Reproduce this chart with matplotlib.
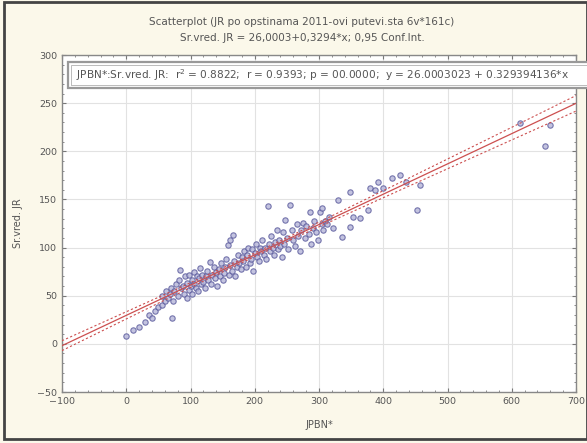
import numpy as np
import matplotlib.pyplot as plt
from matplotlib.patches import Rectangle
from matplotlib.ticker import MultipleLocator

# ============================================================
# Data (read from the reference scatterplot)
# ============================================================

jpbn = [0, 10, 20, 29, 35, 40, 45, 50, 55, 56, 60, 62, 71,
        65, 68, 70, 72, 75, 78, 80, 82, 84, 85, 88, 90, 92, 94, 95, 97, 98,
        100, 102, 103, 105, 106, 108, 110, 112, 113, 115, 116, 118, 120,
        122, 124, 126, 128, 130, 132, 134, 136, 138, 140, 142, 144, 146, 148,
        150, 152, 154, 156, 158, 160, 161, 162, 164, 166, 168, 170, 172, 174,
        176, 178, 180,
        182, 184, 186, 188, 190, 192, 194, 196, 198, 200, 202, 204, 206, 208,
        210, 212, 214, 216, 218, 220, 222, 224, 226, 228, 230, 232, 234, 236,
        238, 240, 242, 244, 246, 247, 250,
        252, 255, 258, 260, 262, 265, 268, 270, 272, 275, 278, 280, 284, 286,
        288, 290, 292, 295, 298, 301, 304, 305, 306, 310, 312, 316,
        322, 330, 336, 348, 348, 353, 364, 376, 379, 387, 392, 400, 413, 426,
        435, 453, 457,
        613, 652, 660]

sr_vred_jr = [8, 14, 18, 23, 30, 27, 34, 38, 50, 40, 45, 55, 27,
              48, 52, 58, 45, 55, 62, 50, 66, 77, 58, 60, 52, 70, 63, 48, 72, 56,
              60, 66, 52, 75, 62, 58, 70, 55, 68, 79, 62, 72, 64,
              58, 70, 76, 66, 85, 62, 72, 80, 68, 75, 60, 78, 70, 84,
              66, 74, 80, 88, 103, 72, 108, 82, 76, 113, 86, 70, 80, 92,
              84, 78, 90,
              86, 96, 80, 92, 100, 84, 88, 98, 76, 94, 104, 90, 86, 100,
              96, 108, 92, 100, 88, 143, 104, 96, 112, 100, 92, 106, 118, 98,
              108, 102, 90, 116, 104, 129, 110,
              98, 144, 118, 108, 102, 124, 112, 96, 118, 126, 110, 122, 114, 137,
              104, 120, 128, 116, 108, 137, 124, 141, 118, 128, 125, 132,
              120, 149, 111, 121, 158, 132, 131, 139, 162, 160, 168, 162, 172, 175,
              168, 139, 165,
              229, 206, 227]

title_lines = ["Scatterplot (JR po opstinama 2011-ovi putevi.sta 6v*161c)",
               "Sr.vred. JR = 26,0003+0,3294*x; 0,95 Conf.Int."]
legend_text = ("JPBN*:Sr.vred. JR:  r$^2$ = 0.8822;  r = 0.9393; p = 00.0000;  "
               "y = 26.0003023 + 0.329394136*x")

x = np.array(jpbn, dtype=float)
y = np.array(sr_vred_jr, dtype=float)

# ============================================================
# Fit + 95% confidence band
# ============================================================

slope, intercept = np.polyfit(x, y, 1)
n = len(x)
resid = y - (intercept + slope * x)
s = np.sqrt(np.sum(resid ** 2) / (n - 2))
xx = np.linspace(-100, 700, 200)
yy = intercept + slope * xx
se = s * np.sqrt(1.0 / n + (xx - x.mean()) ** 2 / np.sum((x - x.mean()) ** 2))
band = 1.975 * se

# ============================================================
# Plot
# ============================================================

bg = '#fbf8ea'
fig = plt.figure(figsize=(5.87, 4.43), dpi=100, facecolor=bg)
ax = fig.add_axes([62 / 587, 1 - 392 / 443, (576 - 62) / 587, (392 - 55) / 443])
ax.set_facecolor('white')

ax.grid(True, color='#e2e2e2', linewidth=0.8)
ax.set_axisbelow(True)

ax.scatter(x, y, s=15, facecolor='#b4b4d8', edgecolor='#5a5a9c',
           linewidth=0.8, alpha=0.8, zorder=3)
ax.plot(xx, yy, color='#cc5050', linewidth=0.9, zorder=4)
ax.plot(xx, yy + band, color='#cc5050', linewidth=0.8, linestyle=(0, (2, 2)), zorder=4)
ax.plot(xx, yy - band, color='#cc5050', linewidth=0.8, linestyle=(0, (2, 2)), zorder=4)

ax.set_xlim(-100, 700)
ax.set_ylim(-50, 300)
ax.xaxis.set_major_locator(MultipleLocator(100))
ax.xaxis.set_minor_locator(MultipleLocator(20))
ax.yaxis.set_major_locator(MultipleLocator(50))
ax.yaxis.set_minor_locator(MultipleLocator(10))
ax.tick_params(which='both', direction='in', top=True, right=True,
               colors='#777777', labelcolor='#555555', labelsize=6.8)
ax.tick_params(which='major', length=3)
ax.tick_params(which='minor', length=1.5)
for sp in ax.spines.values():
    sp.set_color('#888888')
    sp.set_linewidth(1.0)

ax.set_xlabel('JPBN*', fontsize=7, color='#555555', labelpad=10)
ax.set_ylabel('Sr.vred. JR', fontsize=7, color='#555555', labelpad=10)

fig.text(302 / 587, 1 - 22 / 443, title_lines[0], ha='center', va='center',
         fontsize=7.5, color='#555555')
fig.text(302 / 587, 1 - 38 / 443, title_lines[1], ha='center', va='center',
         fontsize=7.5, color='#555555')

# legend box (runs off the right edge like in the original)
fig.patches.append(Rectangle((68 / 587, 1 - 88 / 443), 530 / 587, 26 / 443,
                             transform=fig.transFigure, facecolor='white',
                             edgecolor='#999999', linewidth=1.6, zorder=5))
fig.patches.append(Rectangle((71 / 587, 1 - 85 / 443), 530 / 587, 20 / 443,
                             transform=fig.transFigure, facecolor='none',
                             edgecolor='#bbbbbb', linewidth=0.7, zorder=6))
fig.text(76 / 587, 1 - 75 / 443, legend_text, ha='left', va='center',
         fontsize=7.6, color='#555555', zorder=7)

# outer frame
fig.patches.append(Rectangle((0.006, 0.008), 0.994, 0.988, transform=fig.transFigure,
                             facecolor='none', edgecolor='#444444', linewidth=2))

fig.savefig('out.png', dpi=100, facecolor=bg)
